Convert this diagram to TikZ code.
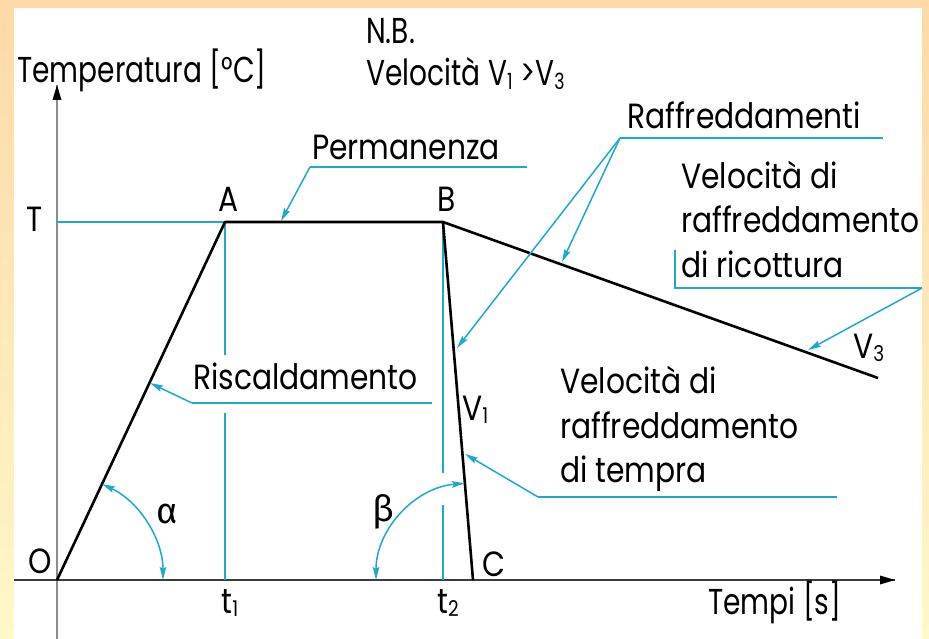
\documentclass[tikz,border=0pt]{standalone}
\usepackage{fontspec}
\setmainfont{Poppins}[FakeStretch=0.85]
\newfontfamily\condfont{Poppins}[FakeStretch=0.78]
\newfontfamily\grkfont{Fira Sans}
\usetikzlibrary{arrows.meta,calc}
\definecolor{cy}{RGB}{30,168,204}
\definecolor{bgtop}{RGB}{255,217,168}
\definecolor{bgbot}{RGB}{255,248,200}
\definecolor{axgrey}{RGB}{140,140,140}
\definecolor{axdark}{RGB}{60,60,60}
\newcommand\sbs[1]{\raisebox{-0.2ex}{\scalebox{0.62}{#1}}}
\tikzset{
  lbl/.style={inner sep=0pt,anchor=base west,font=\fontsize{35}{42}\selectfont},
  clbl/.style={inner sep=0pt,anchor=base west,font=\condfont\fontsize{36}{42}\selectfont},
  glbl/.style={inner sep=0pt,anchor=center,font=\grkfont\fontsize{36}{42}\selectfont},
  curve/.style={line width=2.6pt,black,line join=round},
  guide/.style={cy,line width=1.6pt},
  lead/.style={cy,line width=1.5pt,-{Stealth[length=13pt,width=6.5pt,inset=2pt]}},
  angarc/.style={cy,line width=1.5pt,{Stealth[length=13pt,width=6.5pt,inset=2pt]}-{Stealth[length=13pt,width=6.5pt,inset=2pt]}},
}
\begin{document}
\begin{tikzpicture}[x=1pt,y=-1pt]
\useasboundingbox (0,0) rectangle (929,639);
\shade[top color=bgtop,bottom color=bgbot] (0,0) rectangle (929,639);
\fill[white] (14,8) rectangle (922,639);

% key points
\coordinate (O) at (57,580);
\coordinate (A) at (225,222);
\coordinate (B) at (443,222);
\coordinate (C) at (473,580);
\coordinate (E) at (878,378);
\coordinate (Yb) at (57,639);
\coordinate (Yt) at (57,85);
\coordinate (Xl) at (14,580);
\coordinate (Xr) at (895,580);

% axes
\draw[axgrey,line width=1.6pt] (Yb) -- (Yt);
\fill[black] (Yt) -- ++(-4.5,15) -- ++(9,0) -- cycle;
\draw[axdark,line width=1.5pt] (Xl) -- (Xr);
\fill[black] (Xr) -- ++(-15,-4.5) -- ++(0,9) -- cycle;

% cyan guide lines
\coordinate (T0) at (57,222);
\draw[guide] (T0) -- (A);
\coordinate (t1a) at (225,355);
\coordinate (t1b) at (225,413);
\coordinate (t1c) at (225,580);
\draw[guide] (A) -- (t1a);
\draw[guide] (t1b) -- (t1c);
\coordinate (t2a) at (443,473);
\coordinate (t2b) at (443,505);
\coordinate (t2c) at (443,580);
\draw[guide] (B) -- (t2a);
\draw[guide] (t2b) -- (t2c);

% main curve
\draw[curve] (O) -- (A) -- (B) -- (C);
\draw[curve] (B) -- (E);

% leaders
\coordinate (p1) at (527,167);
\coordinate (p2) at (310,167);
\coordinate (p3) at (281,221);
\draw[guide] (p1) -- (p2);
\draw[lead] (p2) -- (p3);

\coordinate (r1) at (883,138);
\coordinate (r2) at (620,138);
\coordinate (r3) at (457,348);
\coordinate (r4) at (562,262);
\draw[guide] (r1) -- (r2);
\draw[lead] (r2) -- (r3);
\draw[lead] (r2) -- (r4);

\coordinate (k1) at (675,250);
\coordinate (k2) at (675,288);
\coordinate (k3) at (922,288);
\coordinate (k4) at (808,350);
\draw[guide,line join=miter] (k1) -- (k2) -- (k3);
\draw[lead] (k3) -- (k4);

\coordinate (s1) at (432,403);
\coordinate (s2) at (192,403);
\coordinate (s3) at (150,383);
\draw[guide] (s1) -- (s2);
\draw[lead] (s2) -- (s3);

\coordinate (q1) at (837,497);
\coordinate (q2) at (538,497);
\coordinate (q3) at (465,454);
\draw[guide] (q1) -- (q2);
\draw[lead] (q2) -- (q3);

% angle arcs
\coordinate (a0) at ($(O)+(106,0)$);
\coordinate (b0) at ($(C)+(-97,0)$);
\draw[angarc] (a0) arc[start angle=0,end angle=-64.9,radius=106];
\draw[angarc] (b0) arc[start angle=180,end angle=265.2,radius=97];

% labels
\node[clbl] (ytit) at (17,83) {Temperatura [°C]};
\node[clbl] (nb) at (366,44) {N.B.};
\node[clbl] (vel) at (366,86) {Velocità V\sbs{1} >V\sbs{3}};
\node[lbl] (perm) at (312,160) {Permanenza};
\node[lbl,anchor=base] (lA) at (229,212) {A};
\node[lbl,anchor=base] (lB) at (447,212) {B};
\node[lbl] (raff) at (627,129) {Raffreddamenti};
\node[lbl] (ric1) at (681,189) {Velocità di};
\node[lbl] (ric2) at (681,233) {raffreddamento};
\node[lbl] (ric3) at (681,277) {di ricottura};
\node[lbl] (v3) at (853,358) {V\sbs{3}};
\node[lbl] (risc) at (193,389) {Riscaldamento};
\node[lbl] (v1) at (462,420) {V\sbs{1}};
\node[lbl] (tem1) at (560,393) {Velocità di};
\node[lbl] (tem2) at (560,438) {raffreddamento};
\node[lbl] (tem3) at (560,482) {di tempra};
\node[lbl,anchor=base] (lT) at (35,232) {T};
\node[lbl,anchor=base] (lO) at (40,573) {O};
\node[lbl,anchor=base] (lC) at (494,576) {C};
\node[glbl] (alpha) at (167,514) {α};
\node[glbl] (beta) at (383,512) {β};
\node[lbl,anchor=base] (t1) at (230,613) {t\sbs{1}};
\node[lbl,anchor=base] (t2) at (448,613) {t\sbs{2}};
\node[clbl] (xtit) at (708,614) {Tempi [s]};
\end{tikzpicture}
\end{document}
